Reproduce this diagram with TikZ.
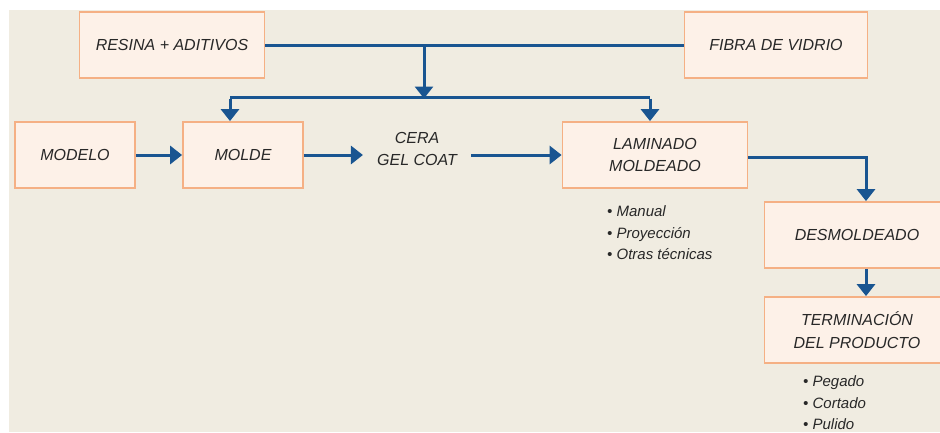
\documentclass[tikz,border=0pt]{standalone}
\usepackage{fontspec}
\setmainfont{Liberation Sans}
\usepackage{tikz}
\usetikzlibrary{arrows.meta}
\definecolor{fondo}{RGB}{240,236,225}
\definecolor{caja}{RGB}{253,241,232}
\definecolor{borde}{RGB}{245,176,132}
\definecolor{flecha}{RGB}{25,85,145}
\definecolor{texto}{RGB}{40,40,40}

\begin{document}
\begin{tikzpicture}[x=1pt,y=-1pt]
        \tikzset{box/.style = {shape=rectangle,draw=borde,fill=caja,line width=1.8pt,minimum width=185pt,minimum height=66pt,align=center,text=texto,font=\fontsize{16}{22.5}\selectfont\itshape}}
        \tikzset{edge/.style = {-{Triangle[width=18pt,length=12pt]},draw=flecha,line width=3pt}}
        \tikzset{line/.style = {draw=flecha,line width=3pt}}
        \tikzset{lista/.style = {anchor=west,align=left,inner sep=0pt,text=texto,font=\fontsize{15}{21.5}\selectfont\itshape}}
        \useasboundingbox (0,0) rectangle (940,432);
        \fill[fondo] (9,10) rectangle (940,432);

        % boxes
        \node[box] (res) at (172,45) {RESINA + ADITIVOS};
        \node[box, minimum width=183pt] (fib) at (776,45) {FIBRA DE VIDRIO};
        \node[box, minimum width=120pt] (modelo) at (75,155) {MODELO};
        \node[box, minimum width=120pt] (molde) at (243,155) {MOLDE};
        \node[text=texto, align=center, inner xsep=14pt, font=\fontsize{16}{22.5}\selectfont\itshape] (cera) at (417,149) {CERA\\GEL COAT};
        \node[box] (lam) at (655,155) {LAMINADO\\MOLDEADO};
        \node[box] (des) at (857,235) {DESMOLDEADO};
        \node[box] (term) at (857,330) {TERMINACIÓN\\DEL PRODUCTO};

        % lists
        \node[lista] (l1) at (607,233) {\textbullet\ Manual\\\textbullet\ Proyección\\\textbullet\ Otras técnicas};
        \node[lista] (l2) at (803,403) {\textbullet\ Pegado\\\textbullet\ Cortado\\\textbullet\ Pulido};

        % points
        \coordinate (j1) at (424,45);
        \coordinate (j2) at (424,97);
        \coordinate (b1) at (230,97);
        \coordinate (b2) at (650,97);

        %edges
        \draw[line] (res) -- (fib);
        \draw[edge] (j1) -- ([yshift=-1.5pt]j2);
        \draw[line] (b1) -- (b2);
        \draw[edge] ([yshift=-1.5pt]b1) -- (b1 |- molde.north);
        \draw[edge] ([yshift=-1.5pt]b2) -- (b2 |- lam.north);
        \draw[edge] (modelo) -- (molde);
        \draw[edge] (molde) -- (molde -| cera.west);
        \draw[edge] (cera.east |- lam) -- (lam);
        \draw[edge] ([yshift=-2pt]lam.east) -| ([xshift=9pt]des.north);
        \draw[edge] ([xshift=9pt]des.south) -- ([xshift=9pt]term.north);
\end{tikzpicture}
\end{document}
